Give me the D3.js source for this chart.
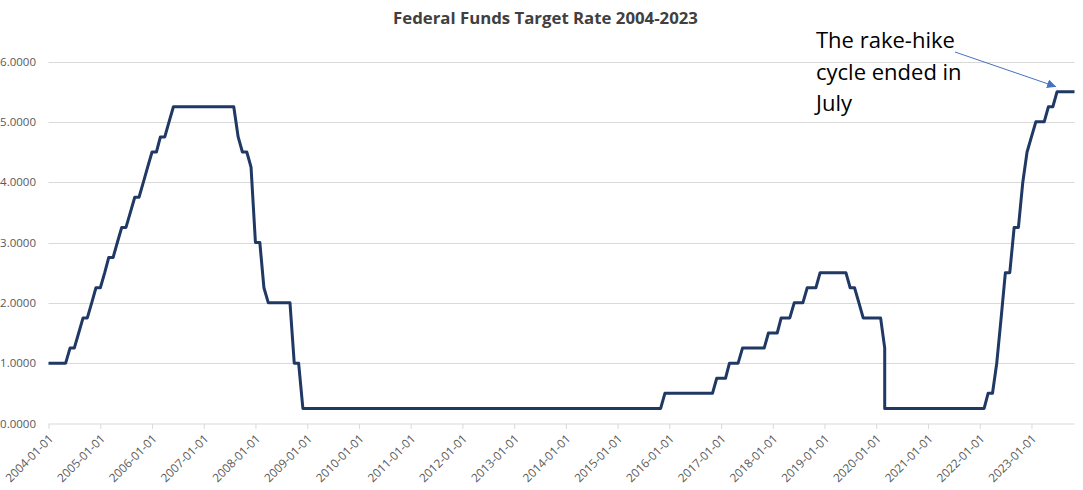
<!DOCTYPE html>
<html>
<head>
<meta charset="utf-8">
<script src="https://cdn.jsdelivr.net/npm/d3@7"></script>
<style>
  html, body { margin: 0; padding: 0; background: #ffffff; }
  svg { display: block; }
</style>
</head>
<body>
<svg id="chart" width="1083" height="490"></svg>
<script>
const chartTitle = "Federal Funds Target Rate 2004-2023";
const annotationLines = ["The rake-hike", "cycle ended in", "July"];
const yTicks = [0, 1, 2, 3, 4, 5, 6];
const tickYears = [2004, 2005, 2006, 2007, 2008, 2009, 2010, 2011, 2012, 2013,
                   2014, 2015, 2016, 2017, 2018, 2019, 2020, 2021, 2022, 2023];

const dates = [
  "2004-01","2004-02","2004-03","2004-04","2004-05","2004-06","2004-07","2004-08","2004-09","2004-10","2004-11","2004-12",
  "2005-01","2005-02","2005-03","2005-04","2005-05","2005-06","2005-07","2005-08","2005-09","2005-10","2005-11","2005-12",
  "2006-01","2006-02","2006-03","2006-04","2006-05","2006-06","2006-07","2006-08","2006-09","2006-10","2006-11","2006-12",
  "2007-01","2007-02","2007-03","2007-04","2007-05","2007-06","2007-07","2007-08","2007-09","2007-10","2007-11","2007-12",
  "2008-01","2008-02","2008-03","2008-04","2008-05","2008-06","2008-07","2008-08","2008-09","2008-10","2008-11","2008-12",
  "2009-01","2009-02","2009-03","2009-04","2009-05","2009-06","2009-07","2009-08","2009-09","2009-10","2009-11","2009-12",
  "2010-01","2010-02","2010-03","2010-04","2010-05","2010-06","2010-07","2010-08","2010-09","2010-10","2010-11","2010-12",
  "2011-01","2011-02","2011-03","2011-04","2011-05","2011-06","2011-07","2011-08","2011-09","2011-10","2011-11","2011-12",
  "2012-01","2012-02","2012-03","2012-04","2012-05","2012-06","2012-07","2012-08","2012-09","2012-10","2012-11","2012-12",
  "2013-01","2013-02","2013-03","2013-04","2013-05","2013-06","2013-07","2013-08","2013-09","2013-10","2013-11","2013-12",
  "2014-01","2014-02","2014-03","2014-04","2014-05","2014-06","2014-07","2014-08","2014-09","2014-10","2014-11","2014-12",
  "2015-01","2015-02","2015-03","2015-04","2015-05","2015-06","2015-07","2015-08","2015-09","2015-10","2015-11","2015-12",
  "2016-01","2016-02","2016-03","2016-04","2016-05","2016-06","2016-07","2016-08","2016-09","2016-10","2016-11","2016-12",
  "2017-01","2017-02","2017-03","2017-04","2017-05","2017-06","2017-07","2017-08","2017-09","2017-10","2017-11","2017-12",
  "2018-01","2018-02","2018-03","2018-04","2018-05","2018-06","2018-07","2018-08","2018-09","2018-10","2018-11","2018-12",
  "2019-01","2019-02","2019-03","2019-04","2019-05","2019-06","2019-07","2019-08","2019-09","2019-10","2019-11","2019-12",
  "2020-01","2020-02","2020-03","2020-03","2020-04","2020-05","2020-06","2020-07","2020-08","2020-09","2020-10","2020-11","2020-12",
  "2021-01","2021-02","2021-03","2021-04","2021-05","2021-06","2021-07","2021-08","2021-09","2021-10","2021-11","2021-12",
  "2022-01","2022-02","2022-03","2022-04","2022-05","2022-06","2022-07","2022-08","2022-09","2022-10","2022-11","2022-12",
  "2023-01","2023-02","2023-03","2023-04","2023-05","2023-06","2023-07","2023-08","2023-09","2023-10","2023-11"
];

const rates = [
  1.00,1.00,1.00,1.00,1.00,1.25,1.25,1.50,1.75,1.75,2.00,2.25,
  2.25,2.50,2.75,2.75,3.00,3.25,3.25,3.50,3.75,3.75,4.00,4.25,
  4.50,4.50,4.75,4.75,5.00,5.25,5.25,5.25,5.25,5.25,5.25,5.25,
  5.25,5.25,5.25,5.25,5.25,5.25,5.25,5.25,4.75,4.50,4.50,4.25,
  3.00,3.00,2.25,2.00,2.00,2.00,2.00,2.00,2.00,1.00,1.00,0.25,
  0.25,0.25,0.25,0.25,0.25,0.25,0.25,0.25,0.25,0.25,0.25,0.25,
  0.25,0.25,0.25,0.25,0.25,0.25,0.25,0.25,0.25,0.25,0.25,0.25,
  0.25,0.25,0.25,0.25,0.25,0.25,0.25,0.25,0.25,0.25,0.25,0.25,
  0.25,0.25,0.25,0.25,0.25,0.25,0.25,0.25,0.25,0.25,0.25,0.25,
  0.25,0.25,0.25,0.25,0.25,0.25,0.25,0.25,0.25,0.25,0.25,0.25,
  0.25,0.25,0.25,0.25,0.25,0.25,0.25,0.25,0.25,0.25,0.25,0.25,
  0.25,0.25,0.25,0.25,0.25,0.25,0.25,0.25,0.25,0.25,0.25,0.50,
  0.50,0.50,0.50,0.50,0.50,0.50,0.50,0.50,0.50,0.50,0.50,0.75,
  0.75,0.75,1.00,1.00,1.00,1.25,1.25,1.25,1.25,1.25,1.25,1.50,
  1.50,1.50,1.75,1.75,1.75,2.00,2.00,2.00,2.25,2.25,2.25,2.50,
  2.50,2.50,2.50,2.50,2.50,2.50,2.25,2.25,2.00,1.75,1.75,1.75,
  1.75,1.75,1.25,0.25,0.25,0.25,0.25,0.25,0.25,0.25,0.25,0.25,0.25,
  0.25,0.25,0.25,0.25,0.25,0.25,0.25,0.25,0.25,0.25,0.25,0.25,
  0.25,0.25,0.50,0.50,1.00,1.75,2.50,2.50,3.25,3.25,4.00,4.50,
  4.75,5.00,5.00,5.00,5.25,5.25,5.50,5.50,5.50,5.50,5.50
];

const parseMonth = d3.utcParse("%Y-%m");
const series = dates.map((d, i) => ({ date: parseMonth(d), value: rates[i] }));

const svg = d3.select("#chart");
const plotLeft = 48.5, plotRight = 1074.5, plotTop = 61.5, plotBottom = 423.5;

const x = d3.scaleUtc()
  .domain(d3.extent(series, d => d.date))
  .range([plotLeft, plotRight]);
const y = d3.scaleLinear().domain([0, 6]).range([plotBottom, plotTop]);

const labelFont = "'Open Sans', 'Liberation Sans', sans-serif";
const labelColor = "#595959";

// Title
svg.append("text")
  .attr("x", 545.5).attr("y", 23.5)
  .attr("text-anchor", "middle")
  .attr("font-family", labelFont)
  .attr("font-weight", "bold")
  .attr("font-size", 16.8)
  .attr("fill", "#404040")
  .text(chartTitle);

// Gridlines (excluding baseline)
svg.append("g").selectAll("line")
  .data(yTicks.filter(t => t > 0))
  .join("line")
  .attr("x1", plotLeft).attr("x2", plotRight)
  .attr("y1", d => Math.round(y(d)) + 0.5).attr("y2", d => Math.round(y(d)) + 0.5)
  .attr("stroke", "#d9d9d9").attr("stroke-width", 1);

// Y axis labels
const yAxis = d3.axisLeft(y).tickValues(yTicks).tickFormat(d3.format(".4f")).tickSize(0).tickPadding(0);
const yg = svg.append("g").attr("transform", `translate(36,0)`).call(yAxis);
yg.select(".domain").remove();
yg.selectAll("text")
  .attr("font-family", labelFont)
  .attr("font-size", 11.5)
  .attr("fill", labelColor);

// X axis
const tickDates = tickYears.map(yr => new Date(Date.UTC(yr, 0, 1)));
const xAxis = d3.axisBottom(x).tickValues(tickDates)
  .tickFormat(d3.utcFormat("%Y-%m-%d")).tickSize(5).tickSizeOuter(0);
const xg = svg.append("g").attr("transform", `translate(0,${plotBottom})`).call(xAxis);
xg.select(".domain").attr("stroke", "#d9d9d9").attr("d", `M${plotLeft},0.5H${plotRight}`);
xg.selectAll(".tick line").attr("stroke", "#d9d9d9").attr("transform", "translate(0,0.5)");
xg.selectAll("text")
  .attr("font-family", labelFont)
  .attr("font-size", 11.8)
  .attr("fill", labelColor)
  .attr("text-anchor", "end")
  .attr("dy", null)
  .attr("y", 0)
  .attr("transform", "translate(5,16) rotate(-45)");

// Line
const line = d3.line().x(d => x(d.date)).y(d => y(d.value));
svg.append("path")
  .datum(series)
  .attr("d", line)
  .attr("fill", "none")
  .attr("stroke", "#1f3864")
  .attr("stroke-width", 3)
  .attr("stroke-linejoin", "round");

// Annotation
const ann = svg.append("text")
  .attr("font-family", labelFont)
  .attr("font-size", 22)
  .attr("fill", "#000000");
annotationLines.forEach((t, i) => {
  ann.append("tspan").attr("x", 816).attr("y", 48 + i * 31.7).text(t);
});

// Arrow pointing at the end of the hike cycle (July 2023)
const julyPoint = series.find(d => d.value === 5.5);
svg.append("defs").append("marker")
  .attr("id", "arrowhead")
  .attr("viewBox", "0 0 10 10")
  .attr("refX", 10).attr("refY", 5)
  .attr("markerWidth", 9).attr("markerHeight", 9)
  .attr("markerUnits", "userSpaceOnUse")
  .attr("orient", "auto")
  .append("path").attr("d", "M0,0L10,5L0,10Z").attr("fill", "#4472c4");
svg.append("line")
  .attr("x1", 955).attr("y1", 52)
  .attr("x2", x(julyPoint.date) - 1).attr("y2", y(julyPoint.value) - 5)
  .attr("stroke", "#4472c4").attr("stroke-width", 1)
  .attr("marker-end", "url(#arrowhead)");
</script>
</body>
</html>
